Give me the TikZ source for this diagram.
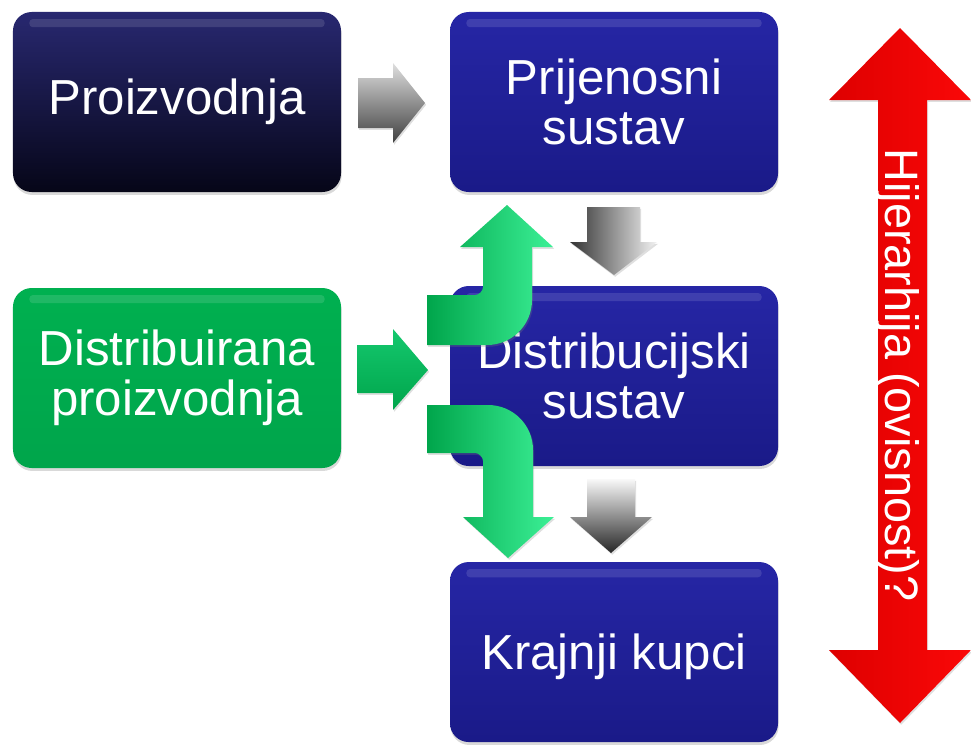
\documentclass[tikz,border=0pt]{standalone}
\usepackage{fontspec}
\setmainfont{Liberation Sans}
\usetikzlibrary{positioning, shadows}

\definecolor{navytop}{RGB}{40,40,112}
\definecolor{navybot}{RGB}{6,6,24}
\definecolor{bluetop}{RGB}{38,38,165}
\definecolor{bluebot}{RGB}{26,26,136}
\definecolor{greenfill}{RGB}{0,176,80}
\definecolor{greendark}{RGB}{0,165,75}
\definecolor{greenlight}{RGB}{60,240,150}
\definecolor{redleft}{RGB}{222,0,0}
\definecolor{redright}{RGB}{250,8,8}

\tikzset{
    box/.style={rectangle, rounded corners=16pt, minimum width=9.84cm, minimum height=5.4cm,
        align=center, text=white, font=\fontsize{42}{43}\selectfont,
        drop shadow={opacity=0.3, shadow xshift=0.5pt, shadow yshift=-2.5pt},
        path picture={\fill[white, opacity=0.12, rounded corners=3pt]
            ([xshift=14pt, yshift=-6pt]path picture bounding box.north west) rectangle
            ([xshift=-14pt, yshift=-13pt]path picture bounding box.north east);}},
    navybox/.style={box, top color=navytop, bottom color=navybot},
    bluebox/.style={box, top color=bluetop, bottom color=bluebot},
    gbox/.style={box, top color=greenfill, bottom color=greendark},
    blockarrow/.style={drop shadow={opacity=0.25, shadow xshift=1pt, shadow yshift=-1.5pt}},
    greenarrow/.style={blockarrow, left color=greendark, right color=greenlight},
}

\begin{document}
\begin{tikzpicture}[x=0.03cm, y=-0.03cm, on grid]
    \useasboundingbox (0,0) rectangle (971,746);

    \node[navybox] (prod) at (177,102) {Proizvodnja};
    \node[bluebox, right=13.11cm of prod] (prij) {Prijenosni\\sustav};
    \node[bluebox, below=8.22cm of prij] (distr) {Distribucijski\\sustav};
    \node[bluebox, below=8.28cm of distr, text depth=0pt] (kupci) {Krajnji kupci};
    \node[gbox, below=8.28cm of prod] (dprod) {Distribuirana\\proizvodnja};

    % grey arrows
    \path[blockarrow, top color=gray!25, bottom color=black!75]
        (358,78) -- (393,78) -- (393,63) -- (425,103) -- (393,143) -- (393,128) -- (358,128) -- cycle;
    \path[blockarrow, left color=black!80, right color=gray!10]
        (587,207) -- (640,207) -- (640,242) -- (657,242) -- (614,275) -- (570,242) -- (587,242) -- cycle;
    \path[blockarrow, top color=gray!5, bottom color=black!85]
        (587,479) -- (635,479) -- (635,517) -- (652,517) -- (611,553) -- (570,517) -- (587,517) -- cycle;

    % green arrows
    \path[blockarrow, top color={rgb,255:red,20;green,200;blue,110}, bottom color=greendark]
        (357,345) -- (393,345) -- (393,329) -- (428,370) -- (393,410) -- (393,393) -- (357,393) -- cycle;
    \path[greenarrow]
        (427,295) -- (475,295) .. controls (479,295) and (483,291) .. (483,287) -- (483,247)
        -- (460,247) -- (507,205) -- (553,247) -- (532,247) -- (532,300)
        .. controls (532,325) and (512,345) .. (487,345) -- (427,345) -- cycle;
    \path[greenarrow]
        (427,405) -- (488,405) .. controls (513,405) and (533,425) .. (533,450) -- (533,517)
        -- (554,517) -- (508,558) -- (463,517) -- (483,517) -- (483,461)
        .. controls (483,457) and (479,453) .. (475,453) -- (427,453) -- cycle;

    % red double arrow
    \path[blockarrow, left color=redleft, middle color=red, right color=redright]
        (900,28) -- (971,100) -- (927,100) -- (927,650) -- (971,650) -- (900,723)
        -- (829,650) -- (878,650) -- (878,100) -- (829,100) -- cycle;
    \node[rotate=-90, anchor=base, text=white, font=\fontsize{40}{40}\selectfont] (hier)
        at (885,375) {Hijerarhija (ovisnost)?};
\end{tikzpicture}
\end{document}
